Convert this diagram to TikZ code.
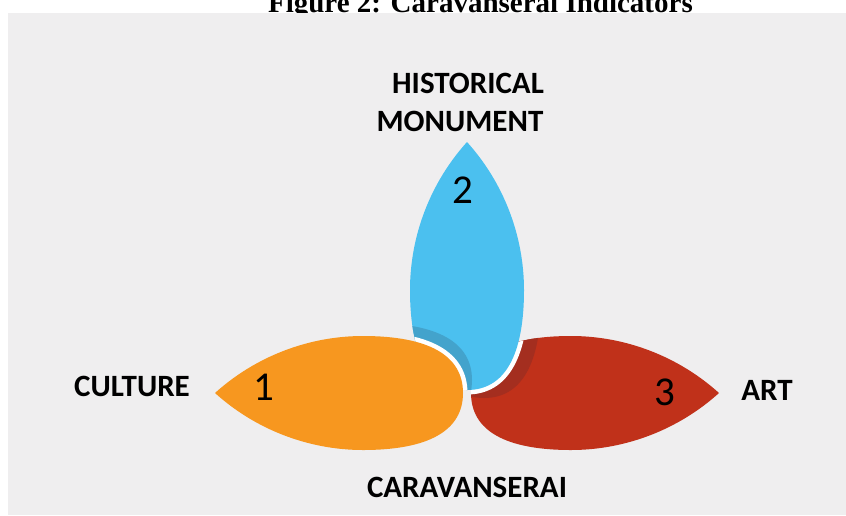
\documentclass[tikz,border=0pt]{standalone}
\usepackage{fontspec}
\setmainfont{Carlito}
\newfontfamily\titlefont{Liberation Serif}
\definecolor{bgcol}{HTML}{EFEEEF}
\definecolor{petalorange}{HTML}{F7971F}
\definecolor{petalblue}{HTML}{4BC0EF}
\definecolor{petalred}{HTML}{C0311A}
\definecolor{shadeblue}{HTML}{43A3CC}
\definecolor{shadered}{HTML}{A42E1F}
\tikzset{
  petalshape/.style={insert path={(148,0) .. controls (107.6,36.5) and (54.5,57) .. (0,57)
      .. controls (-65,57) and (-100,38) .. (-100,0)
      .. controls (-100,-38) and (-65,-57) .. (0,-57)
      .. controls (54.5,-57) and (107.6,-36.5) .. (148,0) -- cycle}},
  orangepos/.style={shift={(363,393)},rotate=180},
  bluepos/.style={shift={(467,290)},rotate=90},
  redpos/.style={shift={(571,393)},rotate=0},
  gapline/.style={draw=white,line width=9pt},
  lbl/.style={font=\fontsize{31}{31}\selectfont\bfseries,inner sep=0pt,anchor=base},
  num/.style={font=\fontsize{41}{41}\selectfont,inner sep=0pt,anchor=base}
}
\begin{document}
\begin{tikzpicture}[x=1pt,y=-1pt]
\useasboundingbox (0,0) rectangle (846,515);
\fill[white] (0,0) rectangle (846,515);
\node[font=\titlefont\bfseries\fontsize{29}{29}\selectfont,inner sep=0pt,anchor=base east] (title) at (693,12) {Figure 2: Caravanserai Indicators};
\fill[bgcol] (8,13) rectangle (846,515);
% red petal
\path[fill=petalred,redpos,petalshape];
\begin{scope}
  \clip[redpos,petalshape];
  \path[fill=shadered,shift={(484,298)},rotate=90,petalshape];
  \path[gapline,bluepos,petalshape];
\end{scope}
% blue petal
\path[fill=petalblue,bluepos,petalshape];
\begin{scope}
  \clip[bluepos,petalshape];
  \path[fill=shadeblue,shift={(372,380)},rotate=180,petalshape];
  \path[gapline,orangepos,petalshape];
\end{scope}
% orange petal
\path[fill=petalorange,orangepos,petalshape];
% labels
\node[lbl] (hist) at (468,93) {HISTORICAL};
\node[lbl] (monu) at (460,131) {MONUMENT};
\node[lbl] (cult) at (132,396) {CULTURE};
\node[lbl] (art) at (767,400) {ART};
\node[lbl] (cara) at (467,497) {CARAVANSERAI};
\node[num] (n1) at (264,400) {1};
\node[num] (n2) at (463,203) {2};
\node[num] (n3) at (665,405) {3};
\end{tikzpicture}
\end{document}
